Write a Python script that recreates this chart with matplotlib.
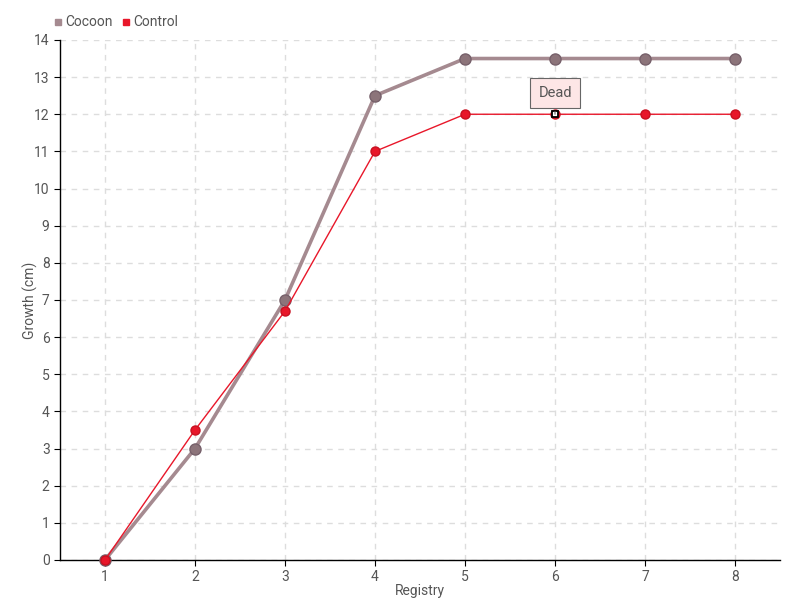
import matplotlib.pyplot as plt
from matplotlib.lines import Line2D

# chart data
registry = [1, 2, 3, 4, 5, 6, 7, 8]
cocoon = [0, 3, 7, 12.5, 13.5, 13.5, 13.5, 13.5]
control = [0, 3.5, 6.7, 11, 12, 12, 12, 12]
dead_idx = 5  # "Dead" annotation on Control at registry 6

plt.rcParams['font.family'] = ['Roboto', 'DejaVu Sans']
text_color = '#555555'

fig = plt.figure(figsize=(8, 6), dpi=100)
ax = fig.add_axes([0.075, 0.0667, 0.9, 0.8667])

cocoon_color = '#a58a90'
control_color = '#e8172a'

ax.plot(registry, cocoon, color=cocoon_color, lw=2.6, marker='o', ms=8,
        markerfacecolor='#8c747a', markeredgecolor='#76606a', markeredgewidth=1,
        zorder=3, clip_on=False)
ax.plot(registry, control, color=control_color, lw=1, marker='o', ms=6.5,
        markerfacecolor=control_color, markeredgecolor='#c81020', zorder=4, clip_on=False)

# dead marker
ax.plot(registry[dead_idx], control[dead_idx], marker='s', ms=5, markerfacecolor='white',
        markeredgecolor='black', markeredgewidth=1.3, zorder=5)
ax.annotate('Dead', xy=(registry[dead_idx], control[dead_idx]), xytext=(0, 15),
            textcoords='offset points', ha='center', va='center', fontsize=10.5, color=text_color,
            bbox=dict(boxstyle='square,pad=0.55', fc='#fde6e6', ec='#666666', lw=0.8),
            arrowprops=dict(arrowstyle='-', color='#666666', lw=0.8), zorder=6)

ax.set_xlim(0.5, 8.5)
ax.set_ylim(0, 14)
ax.set_xticks(registry)
ax.set_yticks(range(0, 15))
ax.grid(True, color='#dddddd', linestyle=(0, (4, 4)), lw=1)
ax.set_axisbelow(True)
for s in ['top', 'right']:
    ax.spines[s].set_visible(False)
for s in ['left', 'bottom']:
    ax.spines[s].set_color('black')
    ax.spines[s].set_linewidth(1)
ax.tick_params(colors='black', labelcolor=text_color, labelsize=10, length=4, direction='out')
ax.set_xlabel('Registry', color=text_color, fontsize=10, labelpad=0)
ax.set_ylabel('Growth (cm)', color=text_color, fontsize=10)
ax.yaxis.set_label_coords(-0.03, 0.5)

handles = [Line2D([], [], ls='none', marker='s', ms=5, color=cocoon_color),
           Line2D([], [], ls='none', marker='s', ms=5, color=control_color)]
fig.legend(handles, ['Cocoon', 'Control'], loc='upper left', bbox_to_anchor=(0.05, 0.995),
           ncol=2, frameon=False, fontsize=10, labelcolor=text_color, handletextpad=0.1,
           columnspacing=0.6, handlelength=0.8)

fig.savefig('out.png', dpi=100)
